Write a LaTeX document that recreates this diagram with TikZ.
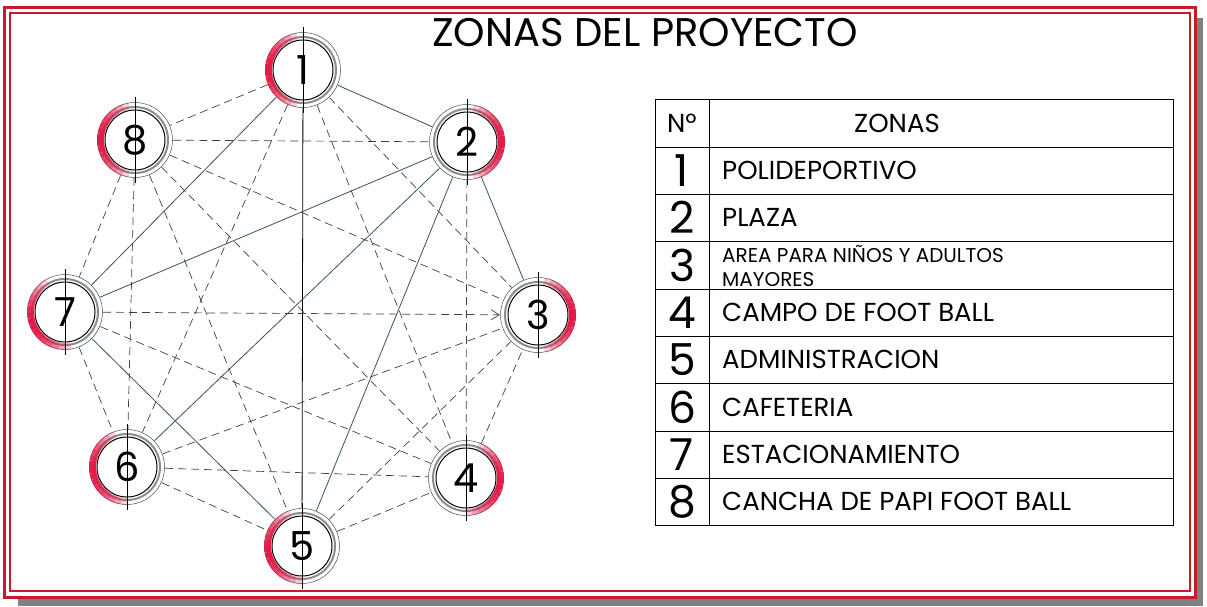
\documentclass[tikz,border=0pt]{standalone}
\usepackage{fontspec}
\setmainfont{Poppins}
\usetikzlibrary{arrows.meta}
\definecolor{marco}{RGB}{196,28,40}
\definecolor{sombra}{RGB}{128,128,128}
\definecolor{linea}{RGB}{52,86,96}
\definecolor{rojo}{RGB}{226,28,72}

\begin{document}
\begin{tikzpicture}[x=1pt, y=-1pt,
	zona/.style={circle, minimum size=76pt, inner sep=0pt, font=\fontsize{40}{40}\selectfont},
	sol/.style={linea, line width=0.8pt},
	punteado/.style={black!75, line width=0.7pt, dash pattern=on 8pt off 5pt},
	numero/.style={inner sep=0pt, font=\fontsize{44}{44}\selectfont},
	texto/.style={anchor=west, inner sep=0pt, font=\fontsize{26}{26}\selectfont}]
	\useasboundingbox (0,0) rectangle (1207,606);
	\fill[sombra] (18,18) rectangle (1203,606);
	\fill[white] (4,7) rectangle (1195,597);
	\draw[marco, line width=3pt] (4,7) rectangle (1195,597);
	\draw[marco, line width=2pt] (10,13) rectangle (1190,591);

	\node (titulo) at (645,33) {\fontsize{40}{40}\selectfont ZONAS DEL PROYECTO};

	\node[zona] (z1) at (303,70) {1};
	\node[zona] (z2) at (467,142) {2};
	\node[zona] (z3) at (538,315) {3};
	\node[zona] (z4) at (466,478) {4};
	\node[zona] (z5) at (302,546) {5};
	\node[zona] (z6) at (127,467) {6};
	\node[zona] (z7) at (65,312) {7};
	\node[zona] (z8) at (135,140) {8};

	\draw[black, line width=0.8pt] (z1) -- (z5);
	\foreach \a/\b in {z1/z2, z1/z7, z2/z7, z2/z6, z2/z5, z2/z3, z7/z5}
		\draw[sol] (\a) -- (\b);
	\foreach \a/\b in {z1/z8, z1/z3, z1/z4, z1/z6, z8/z2, z8/z7, z8/z6, z8/z5, z8/z4, z8/z3,
		z7/z6, z7/z4, z6/z5, z6/z4, z6/z3, z5/z4, z5/z3, z4/z3, z2/z4}
		\draw[punteado] (\a) -- (\b);
	\draw[punteado, -{Straight Barb[length=8pt, width=10pt]}] (z7) -- (z3);

	\foreach \n/\c in {z1/180, z2/0, z3/0, z4/-10, z5/190, z6/190, z7/200, z8/180} {
		\draw[black!45, line width=2pt] (\n.center) circle (33pt);
		\draw[linea, line width=0.5pt] (\n.center) circle (37.5pt);
		\foreach \k in {-8,...,7} {
			\pgfmathsetmacro\ini{\c+10*\k}
			\pgfmathsetmacro\op{1-((\k+0.5)/8.5)^2}
			\draw[rojo, line width=7pt, opacity=\op] ([shift={(\ini:34.5pt)}]\n.center)
				arc[start angle=\ini, end angle=\ini+10, radius=34.5pt];
		}
		\draw[black, line width=1pt] (\n.center) circle (30pt);
		\draw[black, line width=0.6pt] ([yshift=43pt]\n.center) -- ([yshift=-43pt]\n.center);
	}

	\draw[line width=0.9pt] (655,99) rectangle (1173,525);
	\draw[line width=0.9pt] (709,99) -- (709,525);
	\foreach \y in {147,194,241,289,336,383,431,478}
		\draw[line width=0.9pt] (655,\y) -- (1173,\y);

	\node[inner sep=0pt, font=\fontsize{26}{26}\selectfont] (hnum) at (682,123) {Nº};
	\node[inner sep=0pt, font=\fontsize{26}{26}\selectfont] (hzona) at (897,123) {ZONAS};
	\foreach \i/\y in {1/170.5, 2/217.5, 3/265, 4/312.5, 5/359.5, 6/407, 7/454.5, 8/501.5}
		\node[numero] (n\i) at (682,\y) {\i};
	\node[texto] (t1) at (722,170.5) {POLIDEPORTIVO};
	\node[texto] (t2) at (722,217.5) {PLAZA};
	\node[texto, align=left, font=\fontsize{20}{24}\selectfont] (t3) at (722,266) {AREA PARA NIÑOS Y ADULTOS\\MAYORES};
	\node[texto] (t4) at (722,312.5) {CAMPO DE FOOT BALL};
	\node[texto] (t5) at (722,359.5) {ADMINISTRACION};
	\node[texto] (t6) at (722,407) {CAFETERIA};
	\node[texto] (t7) at (722,454.5) {ESTACIONAMIENTO};
	\node[texto] (t8) at (722,501.5) {CANCHA DE PAPI FOOT BALL};
\end{tikzpicture}
\end{document}
